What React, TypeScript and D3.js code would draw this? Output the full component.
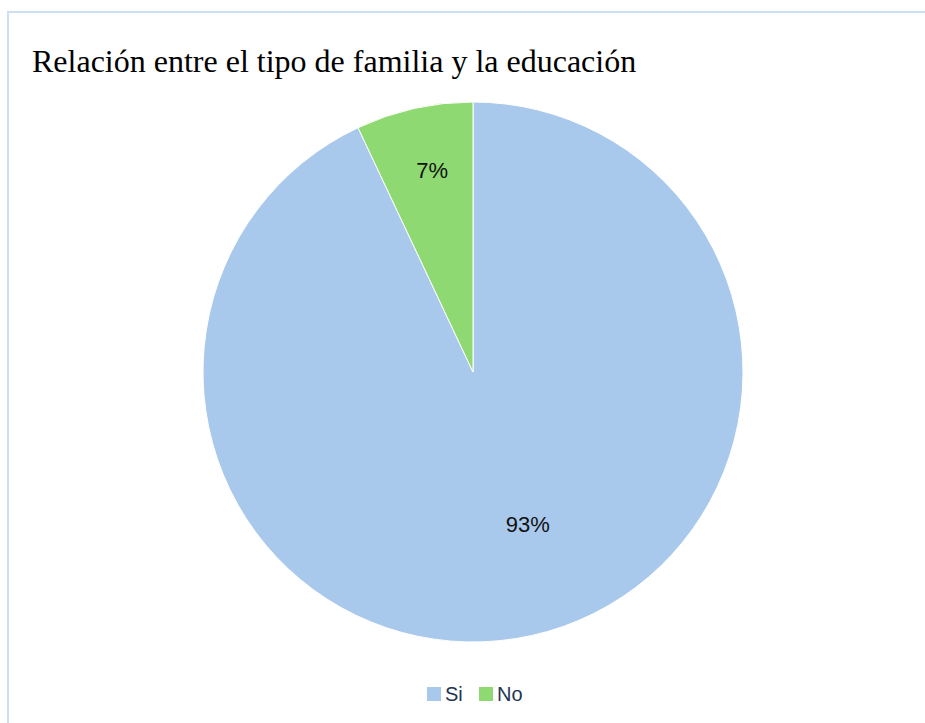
import { useMemo } from 'react';
import { pie, arc, scaleOrdinal } from 'd3';

const categories = ['Si', 'No'];
const values = [93, 7];
const labels = ['93%', '7%'];
const colors = ['#a9c9ec', '#8fd973'];

const W = 925;
const H = 723;

const App = () => {
  const cx = 473;
  const cy = 372;
  const r = 270;

  const color = useMemo(() => scaleOrdinal<string, string>().domain(categories).range(colors), []);

  const slices = useMemo(
    () =>
      pie<number>()
        .sort(null)
        .value((d) => d)(values),
    []
  );

  const sliceArc = arc<any>().innerRadius(0).outerRadius(r);
  // big slice label sits nearer the centre, as in the original
  const labelArcs = [
    arc<any>().innerRadius(r * 0.6).outerRadius(r * 0.6),
    arc<any>().innerRadius(r * 0.76).outerRadius(r * 0.76),
  ];

  return (
    <svg width={W} height={H} style={{ position: 'absolute', left: 0, top: 0 }}>
      <rect x={0} y={0} width={W} height={H} fill="#fff" />
      <path d={`M8,${H}V12H${W}`} fill="none" stroke="#cddff2" strokeWidth={2} />
      <text x={32} y={72} fontFamily="Liberation Serif, Times New Roman, serif" fontSize={32} fill="#000">
        Relación entre el tipo de familia y la educación
      </text>
      <g transform={`translate(${cx},${cy})`}>
        {slices.map((s, i) => (
          <path key={categories[i]} d={sliceArc(s) || ''} fill={color(categories[i])} stroke="#fff" strokeWidth={1} />
        ))}
        {slices.map((s, i) => {
          const adj =
            i === 0
              ? { ...s, startAngle: s.startAngle + 0.25, endAngle: s.endAngle - 0.5 }
              : { ...s, startAngle: s.startAngle + 0.04 };
          const [x, y] = labelArcs[i].centroid(adj);
          return (
            <text
              key={labels[i]}
              x={x}
              y={y}
              textAnchor="middle"
              dominantBaseline="central"
              fontFamily="Liberation Sans, Arial, sans-serif"
              fontSize={22}
              fill="#111"
            >
              {labels[i]}
            </text>
          );
        })}
      </g>
      <g transform="translate(427,687)">
        {categories.map((c, i) => (
          <g key={c} transform={`translate(${i * 52},0)`}>
            <rect width={14} height={14} fill={color(c)} />
            <text
              x={18}
              y={14}
              fontFamily="Liberation Sans, Arial, sans-serif"
              fontSize={20}
              fill="#1f3552"
            >
              {c}
            </text>
          </g>
        ))}
      </g>
    </svg>
  );
};

export default App;
